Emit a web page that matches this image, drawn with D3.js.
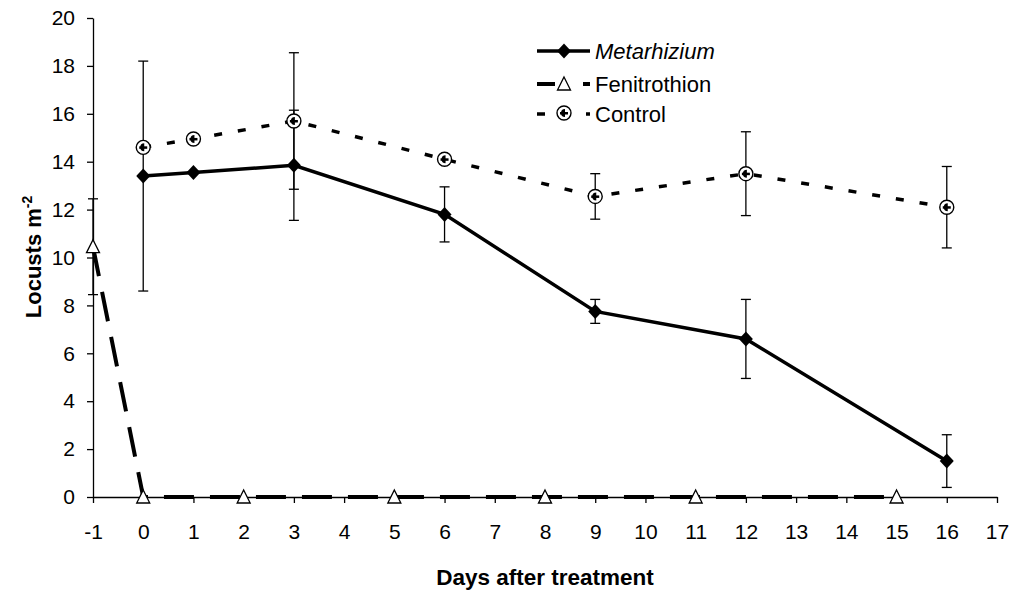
<!DOCTYPE html>
<html><head><meta charset="utf-8">
<script src="https://cdn.jsdelivr.net/npm/d3@7"></script>
<style>body{margin:0;background:#fff}svg{display:block;font-family:"Liberation Sans",Arial,sans-serif}</style>
</head><body><svg id="c" width="1012" height="596"></svg>
<script>
const xTicks = [-1,0,1,2,3,4,5,6,7,8,9,10,11,12,13,14,15,16,17];
const yTicks = [0,2,4,6,8,10,12,14,16,18,20];
const metDays = [0,1,3,6,9,12,16];
const metVals = [13.4,13.55,13.85,11.8,7.75,6.6,1.5];
const metErr  = [4.8,0,2.3,1.15,0.5,1.65,1.1];
const fenDays = [-1,0,2,5,8,11,15];
const fenVals = [10.45,0,0,0,0,0,0];
const fenErr  = [2.0,0,0,0,0,0,0];
const conDays = [0,1,3,6,9,12,16];
const conVals = [14.6,14.95,15.7,14.1,12.55,13.5,12.1];
const conErr  = [0,0,2.85,0,0.95,1.75,1.7];

const svg = d3.select("#c");
const x = d3.scaleLinear().domain([-1,17]).range([93,997]);
const y = d3.scaleLinear().domain([0,20]).range([497,18]);

const xAxis = svg.append("g").attr("transform","translate(0,497)")
  .call(d3.axisBottom(x).tickValues(xTicks).tickFormat(d=>String(d)).tickSizeInner(6).tickSizeOuter(0).tickPadding(21));
const yAxis = svg.append("g").attr("transform","translate(93,0)")
  .call(d3.axisLeft(y).tickValues(yTicks).tickFormat(d=>String(d)).tickSizeInner(6).tickSizeOuter(0).tickPadding(12));
[xAxis,yAxis].forEach(a=>{
  a.selectAll("path,line").attr("stroke","#000").attr("stroke-width",1.3);
  a.selectAll("text").attr("font-size",21).attr("fill","#000").attr("font-family","Liberation Sans, Arial, sans-serif");
});

function errBars(days, vals, errs){
  const g = svg.append("g").attr("stroke","#000").attr("stroke-width",1.3);
  days.forEach((d,i)=>{
    if(!errs[i]) return;
    const cx = x(d), y1 = y(vals[i]+errs[i]), y2 = y(vals[i]-errs[i]);
    g.append("line").attr("x1",cx).attr("x2",cx).attr("y1",y1).attr("y2",y2);
    g.append("line").attr("x1",cx-5).attr("x2",cx+5).attr("y1",y1).attr("y2",y1);
    g.append("line").attr("x1",cx-5).attr("x2",cx+5).attr("y1",y2).attr("y2",y2);
  });
}
errBars(fenDays,fenVals,fenErr);
errBars(metDays,metVals,metErr);
errBars(conDays,conVals,conErr);

const line = d3.line().x(d=>x(d[0])).y(d=>y(d[1]));
svg.append("path").datum(conDays.map((d,i)=>[d,conVals[i]])).attr("d",line)
  .attr("fill","none").attr("stroke","#000").attr("stroke-width",3.5).attr("stroke-dasharray","8,16");
svg.append("path").datum(fenDays.map((d,i)=>[d,fenVals[i]])).attr("d",line)
  .attr("fill","none").attr("stroke","#000").attr("stroke-width",4).attr("stroke-dasharray","30,16");
svg.append("path").datum(metDays.map((d,i)=>[d,metVals[i]])).attr("d",line)
  .attr("fill","none").attr("stroke","#000").attr("stroke-width",3.5);

function diamond(g,cx,cy){ g.append("path").attr("d",`M${cx},${cy-7.5}L${cx+7},${cy}L${cx},${cy+7.5}L${cx-7},${cy}Z`).attr("fill","#000"); }
function tri(g,cx,cy){ g.append("path").attr("d",`M${cx},${cy-7}L${cx+6.5},${cy+6}L${cx-6.5},${cy+6}Z`).attr("fill","#fff").attr("stroke","#000").attr("stroke-width",1.3); }
function circ(g,cx,cy){
  g.append("circle").attr("cx",cx).attr("cy",cy).attr("r",7).attr("fill","#fff").attr("stroke","#000").attr("stroke-width",1.4);
  g.append("path").attr("d",`M${cx+1},${cy-4}A4,4 0 0,0 ${cx+1},${cy+4}Z`).attr("fill","#000");
  g.append("rect").attr("x",cx-4).attr("y",cy-1).attr("width",8).attr("height",2.5).attr("fill","#000");
}
const mk = svg.append("g");
conDays.forEach((d,i)=>circ(mk,x(d),y(conVals[i])));
fenDays.forEach((d,i)=>tri(mk,x(d),y(fenVals[i])));
metDays.forEach((d,i)=>diamond(mk,x(d),y(metVals[i])));

// legend
const lg = svg.append("g");
const rows = [{name:"Metarhizium",yy:51,italic:true},{name:"Fenitrothion",yy:84},{name:"Control",yy:114}];
lg.append("line").attr("x1",537).attr("x2",590).attr("y1",51).attr("y2",51).attr("stroke","#000").attr("stroke-width",3.5);
diamond(lg,564,51);
lg.append("line").attr("x1",537).attr("x2",590).attr("y1",84).attr("y2",84).attr("stroke","#000").attr("stroke-width",4).attr("stroke-dasharray","18,28,7");
tri(lg,564,84);
lg.append("line").attr("x1",537).attr("x2",590).attr("y1",114).attr("y2",114).attr("stroke","#000").attr("stroke-width",3.5).attr("stroke-dasharray","8,41,4");
circ(lg,564,113);
rows.forEach(r=>{
  lg.append("text").attr("x",595).attr("y",r.yy).attr("dy","0.36em").attr("font-size",22)
    .attr("font-style",r.italic?"italic":"normal").text(r.name);
});

// axis titles
svg.append("text").attr("x",545).attr("y",585).attr("text-anchor","middle").attr("font-size",22.5).attr("font-weight","bold").text("Days after treatment");
const yt = svg.append("text").attr("transform","translate(41,257) rotate(-90)").attr("text-anchor","middle").attr("font-size",22).attr("font-weight","bold");
yt.append("tspan").text("Locusts m");
yt.append("tspan").attr("dy",-9).attr("font-size",14).text("-2");
</script></body></html>
